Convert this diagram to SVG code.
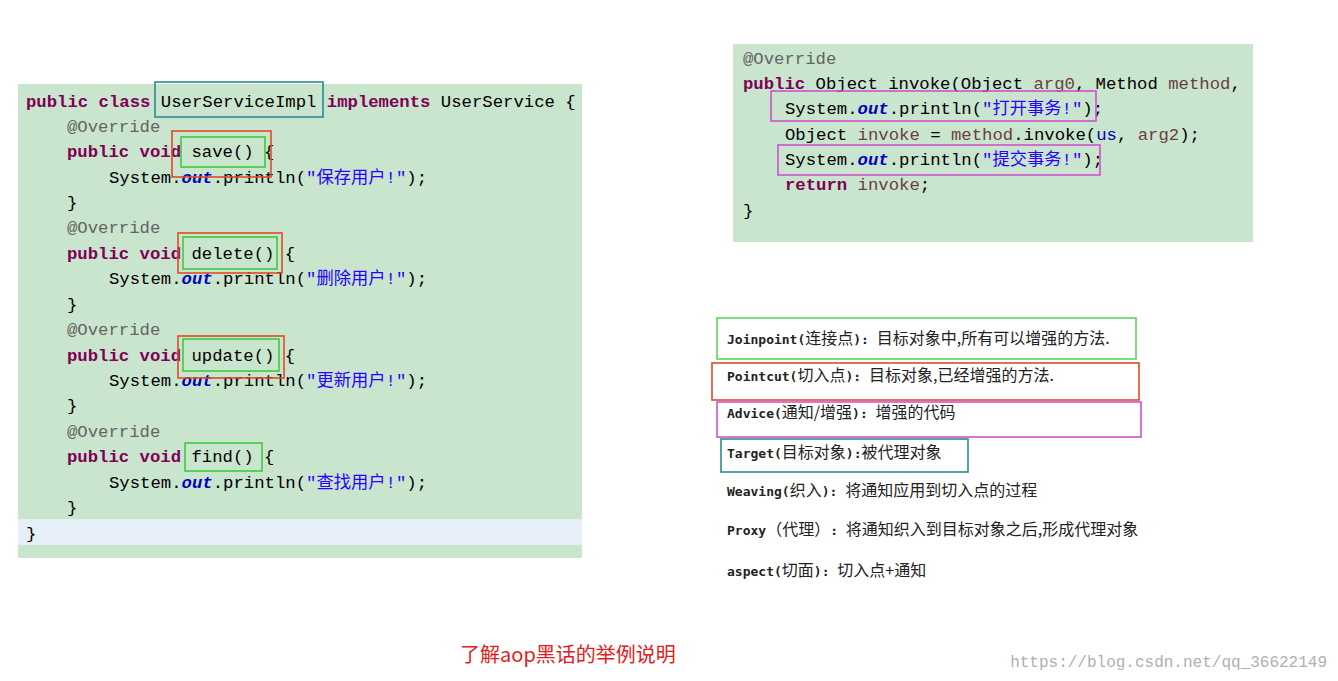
<svg xmlns="http://www.w3.org/2000/svg" width="1338" height="681" viewBox="0 0 1338 681">
<style>
.c{font-family:"Liberation Mono","DejaVu Sans Mono","Noto Sans CJK SC",monospace;font-size:17.3px;fill:#000}
.k{fill:#7f0055;font-weight:bold}
.a{fill:#646464}
.o{fill:#0000c0;font-weight:bold;font-style:italic}
.s{fill:#2a00ff}
.v{fill:#6a3e3e}
.t{font-family:"DejaVu Sans Mono","Noto Sans CJK SC",monospace;font-size:13px;font-weight:bold;fill:#222}
.z{font-family:"Noto Sans CJK SC",sans-serif;font-size:16px;font-weight:normal;fill:#222}
.b{fill:none;stroke-width:1.6}
</style>
<rect width="1338" height="681" fill="#fff"/>
<g id="left-code">
<rect x="18" y="84" width="564" height="474" fill="#c9e5cd"/>
<rect x="18" y="519" width="564" height="26" fill="#e6eef7"/>
<text class="c" x="26" y="107"><tspan class="k">public class</tspan> UserServiceImpl <tspan class="k">implements</tspan> UserService {</text>
<text class="c a" x="67" y="132">@Override</text>
<text class="c" x="67" y="157"><tspan class="k">public void</tspan> save() {</text>
<text class="c" x="109" y="183">System.<tspan class="o">out</tspan>.println(<tspan class="s">"保存用户!"</tspan>);</text>
<text class="c" x="67" y="208">}</text>
<text class="c a" x="67" y="233">@Override</text>
<text class="c" x="67" y="259"><tspan class="k">public void</tspan> delete() {</text>
<text class="c" x="109" y="284">System.<tspan class="o">out</tspan>.println(<tspan class="s">"删除用户!"</tspan>);</text>
<text class="c" x="67" y="310">}</text>
<text class="c a" x="67" y="335">@Override</text>
<text class="c" x="67" y="361"><tspan class="k">public void</tspan> update() {</text>
<text class="c" x="109" y="386">System.<tspan class="o">out</tspan>.println(<tspan class="s">"更新用户!"</tspan>);</text>
<text class="c" x="67" y="411">}</text>
<text class="c a" x="67" y="437">@Override</text>
<text class="c" x="67" y="462"><tspan class="k">public void</tspan> find() {</text>
<text class="c" x="109" y="488">System.<tspan class="o">out</tspan>.println(<tspan class="s">"查找用户!"</tspan>);</text>
<text class="c" x="67" y="513">}</text>
<text class="c" x="26" y="539">}</text>
<rect class="b" x="155" y="82" width="168" height="35" stroke="#2a8c8c"/>
<rect class="b" x="172" y="131" width="99" height="46" stroke="#e04a2a"/>
<rect class="b" x="181" y="137" width="84" height="30" stroke="#3ccc3c"/>
<rect class="b" x="178" y="233" width="104" height="40" stroke="#e04a2a"/>
<rect class="b" x="183" y="237" width="94" height="32" stroke="#3ccc3c"/>
<rect class="b" x="178" y="336" width="106" height="42" stroke="#e04a2a"/>
<rect class="b" x="183" y="339" width="96" height="32" stroke="#3ccc3c"/>
<rect class="b" x="185" y="443" width="77" height="28" stroke="#3ccc3c"/>
</g>
<g id="right-code">
<rect x="733" y="44" width="520" height="198" fill="#c9e5cd"/>
<text class="c a" x="743" y="64">@Override</text>
<text class="c" x="743" y="89"><tspan class="k">public</tspan> Object invoke(Object <tspan class="v">arg0</tspan>, Method <tspan class="v">method</tspan>,</text>
<text class="c" x="785" y="114">System.<tspan class="o">out</tspan>.println(<tspan class="s">"打开事务!"</tspan>);</text>
<text class="c" x="785" y="140">Object <tspan class="v">invoke</tspan> = <tspan class="v">method</tspan>.invoke(<tspan fill="#0000c0">us</tspan>, <tspan class="v">arg2</tspan>);</text>
<text class="c" x="785" y="165">System.<tspan class="o">out</tspan>.println(<tspan class="s">"提交事务!"</tspan>);</text>
<text class="c" x="785" y="190"><tspan class="k">return</tspan> <tspan class="v">invoke</tspan>;</text>
<text class="c" x="743" y="216">}</text>
<rect class="b" x="771" y="91" width="325" height="30" stroke="#d050d0"/>
<rect class="b" x="778" y="145" width="322" height="30" stroke="#d050d0"/>
</g>
<g id="terms">
<rect class="b" x="717" y="318" width="419" height="41" stroke="#5cd65c"/>
<rect class="b" x="712" y="363" width="427" height="37" stroke="#e04a2a"/>
<rect class="b" x="717" y="402" width="424" height="35" stroke="#d050d0"/>
<rect class="b" x="721" y="439" width="247" height="33" stroke="#2a8c8c"/>
<text class="t" x="727" y="344">Joinpoint(<tspan class="z">连接点</tspan>): <tspan class="z">目标对象中,所有可以增强的方法.</tspan></text>
<text class="t" x="727" y="381">Pointcut(<tspan class="z">切入点</tspan>): <tspan class="z">目标对象,已经增强的方法.</tspan></text>
<text class="t" x="727" y="418">Advice(<tspan class="z">通知/增强</tspan>):    <tspan class="z">增强的代码</tspan></text>
<text class="t" x="727" y="458">Target(<tspan class="z">目标对象</tspan>):<tspan class="z">被代理对象</tspan></text>
<text class="t" x="727" y="496">Weaving(<tspan class="z">织入</tspan>): <tspan class="z">将通知应用到切入点的过程</tspan></text>
<text class="t" x="727" y="535">Proxy<tspan class="z">（代理）</tspan>: <tspan class="z">将通知织入到目标对象之后,形成代理对象</tspan></text>
<text class="t" x="727" y="576">aspect(<tspan class="z">切面</tspan>): <tspan class="z">切入点+通知</tspan></text>
</g>
<text x="460" y="662" font-family="'Noto Sans CJK SC',serif" font-size="20" fill="#e02020">了解aop黑话的举例说明</text>
<text x="1327" y="667" text-anchor="end" font-family="'Liberation Mono',monospace" font-size="16" fill="#b0b0b0">https://blog.csdn.net/qq_36622149</text>
</svg>
